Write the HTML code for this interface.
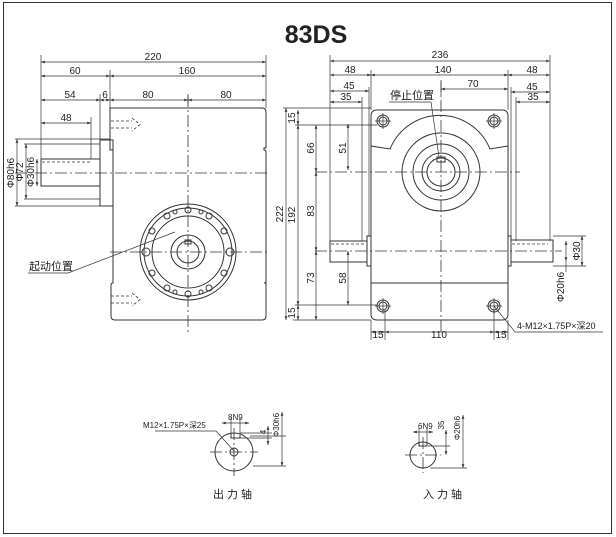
<!DOCTYPE html>
<html><head><meta charset="utf-8"><style>
html,body{margin:0;padding:0;background:#fff}
svg{display:block}
text{font-family:"Liberation Sans","Noto Sans CJK SC",sans-serif;fill:#222}
.l{stroke:#333;stroke-width:1;fill:none}
.t{stroke:#333;stroke-width:0.7;fill:none}
.c{stroke:#333;stroke-width:0.8;fill:none;stroke-dasharray:12 3 2 3}
.d{stroke:#333;stroke-width:0.8;fill:none;stroke-dasharray:3 2}
.n{font-size:10px}
</style></head><body>
<svg width="616" height="537" viewBox="0 0 616 537" xmlns="http://www.w3.org/2000/svg">
<defs><marker id="a" viewBox="0 0 8 6" refX="8" refY="3" markerWidth="6" markerHeight="4" orient="auto-start-reverse"><path d="M0,0 L8,3 L0,6z" fill="#333"/></marker></defs>
<rect x="3.5" y="2.5" width="608" height="531" class="l"/>
<text x="316" y="43" font-size="25" font-weight="bold" text-anchor="middle">83DS</text>

<!-- LEFT VIEW dims -->
<g class="t">
<line x1="41" y1="55" x2="41" y2="175"/><line x1="266" y1="55" x2="266" y2="108"/>
<line x1="110" y1="70" x2="110" y2="140"/><line x1="100" y1="94" x2="100" y2="143"/>
<line x1="91" y1="117" x2="91" y2="159"/><line x1="188" y1="94" x2="188" y2="104"/>
</g>
<g class="t" marker-start="url(#a)" marker-end="url(#a)">
<line x1="41" y1="62" x2="266" y2="62"/>
<line x1="41" y1="76" x2="110" y2="76"/><line x1="110" y1="76" x2="266" y2="76"/>
<line x1="41" y1="100" x2="100" y2="100"/><line x1="100" y1="100" x2="110" y2="100"/>
<line x1="110" y1="100" x2="188" y2="100"/><line x1="188" y1="100" x2="266" y2="100"/>
<line x1="41" y1="123" x2="91" y2="123"/>
<line x1="17" y1="139" x2="17" y2="206"/><line x1="26" y1="144" x2="26" y2="199"/><line x1="37" y1="159" x2="37" y2="186"/>
</g>
<text class="n" x="153" y="60" text-anchor="middle">220</text>
<text class="n" x="75" y="74" text-anchor="middle">60</text>
<text class="n" x="187" y="74" text-anchor="middle">160</text>
<text class="n" x="70" y="98" text-anchor="middle">54</text>
<text class="n" x="105" y="98" text-anchor="middle">6</text>
<text class="n" x="148" y="98" text-anchor="middle">80</text>
<text class="n" x="226" y="98" text-anchor="middle">80</text>
<text class="n" x="66" y="121" text-anchor="middle">48</text>
<text class="n" transform="translate(14,173) rotate(-90)" text-anchor="middle">Φ80h6</text>
<text class="n" transform="translate(23,172) rotate(-90)" text-anchor="middle">Φ72</text>
<text class="n" transform="translate(34,172) rotate(-90)" text-anchor="middle">Φ30h6</text>
<!-- body -->
<path class="l" d="M113,108 H262 Q266,108 266,112 V148 H264 V150 Q266,150 266,152 V281 Q266,283 264,283 H266 V316 Q266,320 262,320 H115 Q111,320 111,316 V285 Q111,283 113,283 V150 H110 V108 Z" />
<line class="t" x1="110" y1="139" x2="15" y2="139"/><line class="t" x1="110" y1="206" x2="15" y2="206"/>
<line class="t" x1="100" y1="144" x2="24" y2="144"/><line class="t" x1="100" y1="199" x2="24" y2="199"/>
<rect class="l" x="41" y="159" width="59" height="27"/>
<rect class="l" x="100" y="140" width="13" height="66"/>
<line class="d" x1="42" y1="162" x2="91" y2="162"/>
<line class="d" x1="111" y1="121" x2="132" y2="121"/><line class="d" x1="111" y1="128" x2="132" y2="128"/><path class="d" d="M132,118 L140,124.5 L132,131"/>
<line class="d" x1="111" y1="296" x2="132" y2="296"/><line class="d" x1="111" y1="303" x2="132" y2="303"/><path class="d" d="M132,293 L140,299.5 L132,306"/>
<line class="c" x1="15" y1="173" x2="270" y2="173"/>
<line class="c" x1="188" y1="95" x2="188" y2="332"/>
<line class="c" x1="110" y1="252" x2="270" y2="252"/>
<!-- disk -->
<circle class="l" cx="188" cy="252" r="48"/>
<circle class="l" cx="188" cy="252" r="44"/>
<circle class="l" cx="188" cy="252" r="36"/>
<circle class="l" cx="188" cy="252" r="17"/>
<circle class="l" cx="188" cy="252" r="11"/>
<rect class="l" x="185" y="240" width="6" height="4"/>
<g class="l">
<circle cx="188" cy="210" r="3"/><circle cx="188" cy="294" r="3"/><circle cx="146" cy="252" r="4"/><circle cx="230" cy="252" r="4"/>
<circle cx="209" cy="216" r="3"/><circle cx="167" cy="216" r="3"/><circle cx="209" cy="288" r="3"/><circle cx="167" cy="288" r="3"/>
<circle cx="152" cy="231" r="3"/><circle cx="224" cy="231" r="3"/><circle cx="152" cy="273" r="3"/><circle cx="224" cy="273" r="3"/>
<circle cx="201" cy="212" r="2"/><circle cx="175" cy="212" r="2"/><circle cx="201" cy="292" r="2"/><circle cx="175" cy="292" r="2"/>
</g>
<text x="29" y="270" font-size="11">起动位置</text>
<polyline class="t" points="28,273 68,273 175,232"/>

<!-- RIGHT VIEW -->
<g class="t">
<line x1="330" y1="55" x2="330" y2="262"/><line x1="550" y1="55" x2="550" y2="241"/>
<line x1="371" y1="70" x2="371" y2="110"/><line x1="508" y1="70" x2="508" y2="110"/>
<line x1="369" y1="87" x2="369" y2="236"/><line x1="362" y1="97" x2="362" y2="241"/>
<line x1="511" y1="87" x2="511" y2="236"/><line x1="516" y1="97" x2="516" y2="241"/>
<line x1="441" y1="82" x2="441" y2="95"/>
<line x1="283" y1="108" x2="371" y2="108"/><line x1="293" y1="320" x2="371" y2="320"/>
<line x1="295" y1="125" x2="377" y2="125"/><line x1="295" y1="305" x2="377" y2="305"/>
<line x1="371" y1="320" x2="371" y2="340"/><line x1="508" y1="320" x2="508" y2="340"/>
<line x1="385" y1="310" x2="385" y2="340"/><line x1="494" y1="310" x2="494" y2="340"/>
<line x1="553" y1="236" x2="586" y2="236"/><line x1="553" y1="266" x2="586" y2="266"/>
</g>
<g class="t" marker-start="url(#a)" marker-end="url(#a)">
<line x1="330" y1="61" x2="550" y2="61"/>
<line x1="330" y1="75" x2="371" y2="75"/><line x1="371" y1="75" x2="508" y2="75"/><line x1="508" y1="75" x2="550" y2="75"/>
<line x1="330" y1="91" x2="369" y2="91"/><line x1="511" y1="92" x2="550" y2="92"/>
<line x1="330" y1="102" x2="362" y2="102"/><line x1="516" y1="102" x2="550" y2="102"/>
<line x1="441" y1="89" x2="508" y2="89"/>
<line x1="286" y1="108" x2="286" y2="320"/>
<line x1="298" y1="110" x2="298" y2="125"/><line x1="298" y1="125" x2="298" y2="305"/><line x1="298" y1="305" x2="298" y2="320"/>
<line x1="316" y1="125" x2="316" y2="172"/><line x1="316" y1="172" x2="316" y2="251"/><line x1="316" y1="251" x2="316" y2="320"/>
<line x1="348" y1="124" x2="348" y2="170"/><line x1="348" y1="251" x2="348" y2="305"/>
<line x1="582" y1="236" x2="582" y2="266"/><line x1="566" y1="241" x2="566" y2="261"/>
<line x1="371" y1="332" x2="385" y2="332"/><line x1="385" y1="332" x2="494" y2="332"/><line x1="494" y1="332" x2="508" y2="332"/>
</g>
<text class="n" x="440" y="58" text-anchor="middle">236</text>
<text class="n" x="350" y="73" text-anchor="middle">48</text>
<text class="n" x="443" y="73" text-anchor="middle">140</text>
<text class="n" x="532" y="73" text-anchor="middle">48</text>
<text class="n" x="349" y="89" text-anchor="middle">45</text>
<text class="n" x="532" y="90" text-anchor="middle">45</text>
<text class="n" x="346" y="100" text-anchor="middle">35</text>
<text class="n" x="533" y="100" text-anchor="middle">35</text>
<text class="n" x="473" y="87" text-anchor="middle">70</text>
<text class="n" transform="translate(283,214) rotate(-90)" text-anchor="middle">222</text>
<text class="n" transform="translate(295,118) rotate(-90)" text-anchor="middle">15</text>
<text class="n" transform="translate(295,215) rotate(-90)" text-anchor="middle">192</text>
<text class="n" transform="translate(295,313) rotate(-90)" text-anchor="middle">15</text>
<text class="n" transform="translate(314,148) rotate(-90)" text-anchor="middle">66</text>
<text class="n" transform="translate(314,211) rotate(-90)" text-anchor="middle">83</text>
<text class="n" transform="translate(314,278) rotate(-90)" text-anchor="middle">73</text>
<text class="n" transform="translate(346,148) rotate(-90)" text-anchor="middle">51</text>
<text class="n" transform="translate(346,278) rotate(-90)" text-anchor="middle">58</text>
<text class="n" transform="translate(580,251) rotate(-90)" text-anchor="middle">Φ30</text>
<text class="n" transform="translate(564,287) rotate(-90)" text-anchor="middle">Φ20h6</text>
<line class="t" x1="566" y1="261" x2="566" y2="272"/>
<text class="n" x="378" y="338" text-anchor="middle">15</text>
<text class="n" x="439" y="338" text-anchor="middle">110</text>
<text class="n" x="501" y="338" text-anchor="middle">15</text>
<!-- body -->
<path class="l" d="M377,110 H502 Q508,110 508,116 V314 Q508,320 502,320 H377 Q371,320 371,314 V116 Q371,110 377,110 Z"/>
<line class="l" x1="371" y1="283" x2="508" y2="283"/>
<path class="l" d="M371,146 L390,149 A54,54 0 0 1 490,149 L508,146"/>
<circle class="l" cx="441" cy="172" r="39"/>
<circle class="l" cx="441" cy="172" r="28"/>
<circle class="l" cx="441" cy="172" r="19"/>
<circle class="l" cx="441" cy="172" r="14"/>
<rect class="l" x="437" y="157" width="8" height="5"/>
<g class="l">
<circle cx="383" cy="121" r="6"/><circle cx="383" cy="121" r="4"/>
<circle cx="494" cy="121" r="6"/><circle cx="494" cy="121" r="4"/>
<circle cx="383" cy="306" r="6"/><circle cx="383" cy="306" r="4"/>
<circle cx="494" cy="306" r="6"/><circle cx="494" cy="306" r="4"/>
</g>
<g class="t">
<line x1="375" y1="121" x2="391" y2="121"/><line x1="383" y1="113" x2="383" y2="129"/>
<line x1="486" y1="121" x2="502" y2="121"/><line x1="494" y1="113" x2="494" y2="129"/>
<line x1="375" y1="306" x2="391" y2="306"/><line x1="383" y1="298" x2="383" y2="314"/>
<line x1="486" y1="306" x2="502" y2="306"/><line x1="494" y1="298" x2="494" y2="314"/>
</g>
<!-- shafts -->
<rect class="l" x="330" y="241" width="37" height="21"/>
<rect class="l" x="367" y="236" width="4" height="30"/>
<rect class="l" x="508" y="236" width="3" height="30"/>
<rect class="l" x="511" y="240" width="42" height="22"/>
<line class="d" x1="331" y1="244" x2="366" y2="244"/><line class="d" x1="512" y1="244" x2="548" y2="244"/>
<line class="c" x1="441" y1="80" x2="441" y2="335"/>
<line class="c" x1="315" y1="172" x2="520" y2="172"/>
<line class="c" x1="315" y1="251" x2="562" y2="251"/>
<text x="390" y="99" font-size="11">停止位置</text>
<polyline class="t" points="389,102 431,102 439,157"/>
<text x="517" y="329" font-size="9">4-M12×1.75P×深20</text>
<polyline class="t" points="494,306 515,332 603,332"/>

<!-- bottom shafts -->
<circle class="l" cx="234" cy="452" r="19"/>
<circle class="l" cx="234" cy="452" r="4"/>
<path class="l" d="M231,434 V438 H240 V435"/>
<line class="c" x1="210" y1="452" x2="258" y2="452"/><line class="c" x1="234" y1="428" x2="234" y2="476"/>
<g class="t"><line x1="231" y1="418" x2="231" y2="434"/><line x1="240" y1="418" x2="240" y2="434"/>
<line x1="240" y1="433" x2="272" y2="433"/><line x1="240" y1="438" x2="272" y2="438"/>
<line x1="253" y1="466" x2="286" y2="466"/><line x1="250" y1="436" x2="286" y2="436"/></g>
<g class="t" marker-start="url(#a)" marker-end="url(#a)"><line x1="222" y1="423" x2="249" y2="423"/>
<line x1="268" y1="426" x2="268" y2="445"/><line x1="282" y1="412" x2="282" y2="466"/></g>
<text x="228" y="420" font-size="8">8N9</text>
<text font-size="8" transform="translate(266,432) rotate(-90)" text-anchor="middle">4</text>
<text font-size="8" transform="translate(279,425) rotate(-90)" text-anchor="middle">Φ30h6</text>
<text x="143" y="428" font-size="8">M12×1.75P×深25</text>
<polyline class="t" points="155,431 216,431 234,451"/>
<circle class="l" cx="423" cy="455" r="13"/>
<path class="l" d="M419,442 V446 H427 V443"/>
<line class="c" x1="405" y1="455" x2="441" y2="455"/><line class="c" x1="423" y1="437" x2="423" y2="473"/>
<g class="t"><line x1="419" y1="428" x2="419" y2="442"/><line x1="427" y1="428" x2="427" y2="442"/>
<line x1="428" y1="446" x2="450" y2="446"/><line x1="430" y1="468" x2="467" y2="468"/></g>
<g class="t" marker-start="url(#a)" marker-end="url(#a)"><line x1="413" y1="432" x2="433" y2="432"/>
<line x1="446" y1="430" x2="446" y2="455"/><line x1="463" y1="415" x2="463" y2="468"/></g>
<text x="418" y="429" font-size="8">6N9</text>
<text font-size="8" transform="translate(444,425) rotate(-90)" text-anchor="middle">35</text>
<text font-size="8" transform="translate(460,428) rotate(-90)" text-anchor="middle">Φ20h6</text>
<text x="234" y="498" font-size="11" text-anchor="middle" letter-spacing="3">出力轴</text>
<text x="444" y="498" font-size="11" text-anchor="middle" letter-spacing="3">入力轴</text>
</svg>
</body></html>
